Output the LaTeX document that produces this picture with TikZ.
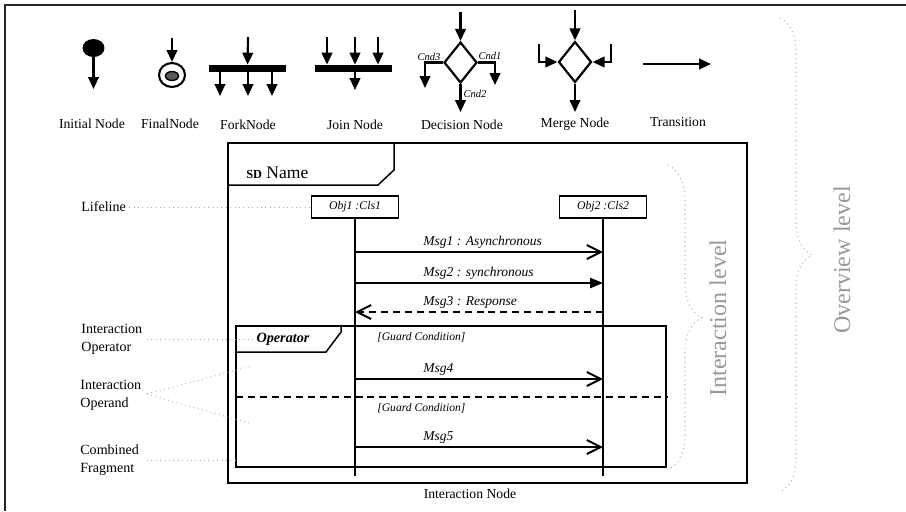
\documentclass[tikz,border=0pt]{standalone}
\usepackage{fontspec}
\setmainfont{Liberation Serif}
\usetikzlibrary{arrows.meta,positioning,shapes.geometric,decorations.pathreplacing}

\begin{document}
\begin{tikzpicture}[x=0.02cm,y=-0.02cm,
    >={Triangle[length=6.8pt,width=6pt]},
    flow/.style={->,line width=1.25pt},
    barnode/.style={fill=black,inner sep=0pt,minimum width=1.54cm,minimum height=0.14cm},
    choice/.style={diamond,draw,line width=1.25pt,inner sep=0pt,minimum width=0.66cm,minimum height=0.82cm},
    symlabel/.style={font=\fontsize{7.8}{10}\selectfont},
    cond/.style={font=\fontsize{6}{7}\selectfont\itshape,inner sep=1pt},
    boxframe/.style={draw,line width=0.85pt,inner sep=0pt},
    objbox/.style={draw,line width=0.8pt,minimum width=1.74cm,minimum height=0.44cm,inner sep=0pt,font=\fontsize{6.7}{8}\selectfont\itshape},
    lifeline/.style={line width=1.1pt},
    async/.style={line width=1.1pt,-{Straight Barb[length=8pt,width=8pt]}},
    sync/.style={line width=1.1pt,-{Triangle[length=7.4pt,width=5.8pt]}},
    reply/.style={async,dash pattern=on 4pt off 2.8pt},
    msglabel/.style={anchor=west,inner sep=0pt,font=\fontsize{7.7}{9}\selectfont\itshape},
    guard/.style={anchor=west,inner sep=0pt,font=\fontsize{6.6}{8}\selectfont\itshape},
    sidelabel/.style={anchor=west,align=left,inner sep=0pt,font=\fontsize{8}{10.2}\selectfont},
    note/.style={gray!70,line width=0.5pt,dotted},
    bracket/.style={gray!60,line width=0.6pt,dotted,decorate,decoration={brace,amplitude=#1}},
    level/.style={rotate=90,gray!80,font=\fontsize{13.7}{16}\selectfont}]

    \useasboundingbox (0,0) rectangle (906,511);
    \draw[line width=1.1pt,black!85] (906,5) -- (5,5) -- (5,511);

    % activity symbols
    \node[ellipse,fill=black,inner sep=0pt,minimum width=0.44cm,minimum height=0.36cm] (init) at (93.5,48) {};
    \node[ellipse,draw,line width=1.2pt,inner sep=0pt,minimum width=0.52cm,minimum height=0.48cm] (final) at (172,75) {};
    \node[ellipse,draw,fill=gray!70!black,line width=0.8pt,inner sep=0pt,minimum width=0.26cm,minimum height=0.18cm] (finaldot) at (172,76) {};
    \node[barnode] (fork) at (247.5,68.5) {};
    \node[barnode] (join) at (353.5,68.5) {};
    \node[choice] (decision) at (460.5,62.5) {};
    \node[choice] (merge) at (575,62) {};

    \coordinate (init-out) at (93.5,89);
    \coordinate (final-in) at (172,38);
    \coordinate (fork-in) at (248,37);
    \coordinate (join-out) at (355,90);
    \coordinate (dec-in) at (460.5,12);
    \coordinate (cnd1) at (495,85);
    \coordinate (cnd2) at (460.5,112);
    \coordinate (cnd3) at (425,88);
    \coordinate (merge-in) at (575,10);
    \coordinate (merge-l) at (539,44);
    \coordinate (merge-r) at (611,44);
    \coordinate (merge-out) at (575,112);
    \coordinate (tr-a) at (643,64);
    \coordinate (tr-b) at (711,64);

    \draw[flow] (init) -- (init-out);
    \draw[flow] (final-in) -- (final);
    \draw[flow] (fork-in) -- (fork);
    \foreach \x in {220,248,272} {
        \coordinate (fork-\x) at (\x,96);
        \draw[flow] (fork-\x |- fork.south) -- (fork-\x);
    }
    \foreach \x in {327,355,378} {
        \coordinate (join-\x) at (\x,37);
        \draw[flow] (join-\x) -- (join-\x |- join.north);
    }
    \draw[flow] (join-out |- join.south) -- (join-out);
    \draw[flow] (dec-in) -- (decision);
    \draw[flow] (decision.east) -| (cnd1);
    \draw[flow] (decision.south) -- (cnd2);
    \draw[flow] (decision.west) -| (cnd3);
    \draw[flow] (merge-in) -- (merge);
    \draw[flow] (merge-l) |- (merge.west);
    \draw[flow] (merge-r) |- (merge.east);
    \draw[flow] (merge.south) -- (merge-out);
    \draw[flow] (tr-a) -- (tr-b);

    \node[cond] (cnd3-lbl) at (429,57) {Cnd3};
    \node[cond] (cnd1-lbl) at (490,56) {Cnd1};
    \node[cond] (cnd2-lbl) at (475,94) {Cnd2};

    \node[symlabel] (init-lbl) at (92,124) {Initial Node};
    \node[symlabel] (final-lbl) at (170,124) {FinalNode};
    \node[symlabel] (fork-lbl) at (248,125) {ForkNode};
    \node[symlabel] (join-lbl) at (355,125) {Join Node};
    \node[symlabel] (dec-lbl) at (462,125) {Decision Node};
    \node[symlabel] (merge-lbl) at (575,124) {Merge Node};
    \node[symlabel] (tr-lbl) at (678,122) {Transition};

    % interaction node
    \node[boxframe,minimum width=10.38cm,minimum height=6.8cm] (sd) at (487.5,313) {};
    \draw[line width=0.85pt] (228,185) -- (378,185) -- (394,170) -- (394,143);
    \node[anchor=west,inner sep=0pt] (sd-name) at (246,173) {{\fontsize{7}{8}\selectfont\bfseries SD}~{\fontsize{10}{12}\selectfont Name}};
    \node[symlabel] (sd-lbl) at (470,494) {Interaction Node};

    \node[objbox] (obj1) at (355,207) {Obj1 :Cls1};
    \node[objbox] (obj2) at (603,207) {Obj2 :Cls2};
    \coordinate (l1) at (355,476);
    \coordinate (l2) at (603,476);

    \node[boxframe,minimum width=8.6cm,minimum height=2.82cm] (cf) at (451,396.5) {};
    \draw[line width=0.85pt] (236,352) -- (326,352) -- (341,332) -- (341,326);
    \node[inner sep=1pt,font=\fontsize{8.1}{10}\selectfont\bfseries\itshape] (op) at (283,339) {Operator};
    \coordinate (sep-l) at (236,397);
    \coordinate (sep-r) at (668,397);
    \draw[line width=0.85pt,dash pattern=on 4pt off 2.8pt] (sep-l) -- (sep-r);

    \draw[lifeline] (obj1) -- (l1);
    \draw[lifeline] (obj2) -- (l2);

    \foreach \n/\y in {1/252,2/283,3/312,4/379,5/447} {
        \coordinate (a\n) at (355,\y);
        \coordinate (b\n) at (603,\y);
    }
    \draw[async] (a1) -- (b1);
    \draw[sync] (a2) -- (b2);
    \draw[reply] (b3) -- (a3);
    \draw[async] (a4) -- (b4);
    \draw[async] (a5) -- (b5);

    \node[msglabel] (msg1) at (423,242) {Msg1 : Asynchronous};
    \node[msglabel] (msg2) at (423,273) {Msg2 : synchronous};
    \node[msglabel] (msg3) at (423,302) {Msg3 : Response};
    \node[guard] (guard1) at (377,337) {[Guard Condition]};
    \node[msglabel] (msg4) at (423,369) {Msg4};
    \node[guard] (guard2) at (377,408) {[Guard Condition]};
    \node[msglabel] (msg5) at (423,438) {Msg5};

    % annotations
    \node[sidelabel] (lifeline-lbl) at (81,207) {Lifeline};
    \node[sidelabel] (operator-lbl) at (81,339) {Interaction\\Operator};
    \node[sidelabel] (operand-lbl) at (80,395) {Interaction\\Operand};
    \node[sidelabel] (combined-lbl) at (80,460) {Combined\\Fragment};
    \coordinate (operand-a) at (252,366);
    \coordinate (operand-b) at (252,424);
    \coordinate (cf-l) at (236,460);

    \draw[note] (lifeline-lbl.east) ++(3,0) -- (obj1.west);
    \draw[note] (147,339) -- (op.west);
    \draw[note] (147,394) -- (operand-a);
    \draw[note] (147,394) -- (operand-b);
    \draw[note] (147,460) -- (cf-l);

    \draw[bracket=0.68cm] (668,165) -- (668,470);
    \draw[bracket=0.64cm] (780,18) -- (780,492);
    \node[level] (inter-lvl) at (718,318) {Interaction level};
    \node[level] (over-lvl) at (842,260) {Overview level};
\end{tikzpicture}
\end{document}
